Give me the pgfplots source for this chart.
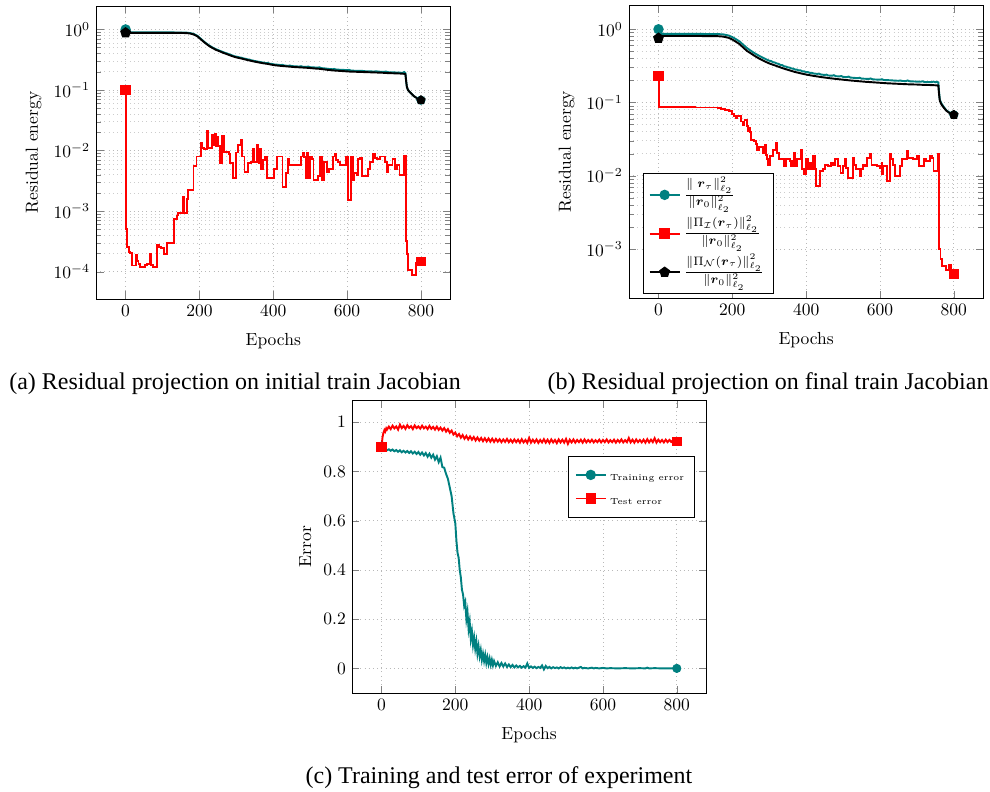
\documentclass[border=0pt]{standalone}
\usepackage{amsmath}
\usepackage{fontspec}
\usepackage{pgfplots}
\pgfplotsset{compat=1.18}
\newfontfamily\capfont{Liberation Serif}

\pgfplotsset{
  panel/.style={
    scale only axis, width=202.5pt, height=167.4pt,
    xmin=-80, xmax=880, xtick={0,200,400,600,800},
    xlabel={Epochs}, xlabel style={yshift=-3pt},
    major grid style={dotted, gray!55},
    minor grid style={dotted, gray!40},
  },
  tealline/.style={teal, line width=1.1pt, mark=*, mark size=2.4pt, mark repeat=100000, mark options={solid, fill=teal}},
  redline/.style={red, line width=1.1pt, mark=square*, mark size=2.4pt, mark repeat=100000, mark options={solid, fill=red}},
  blackline/.style={black, line width=1.1pt, mark=pentagon*, mark size=2.6pt, mark repeat=100000, mark options={solid, fill=black}},
}

\begin{document}
\begin{tikzpicture}
\useasboundingbox (0,0) rectangle (565.7pt,-452pt);

% ---------------- (a) initial train Jacobian ----------------
\begin{axis}[panel, at={(54.9pt,-3.4pt)}, anchor=north west,
  ymode=log, ymin=3.57e-5, ymax=2.44, grid=both,
  ytick={1e-4,1e-3,1e-2,1e-1,1},
  ylabel={Residual energy}]
\addplot[tealline] coordinates {
(0,1.0) (2,0.895) (50,0.895) (100,0.893) (150,0.89) (165,0.885) (175,0.87) (185,0.84) (195,0.78)
(205,0.69) (215,0.61) (225,0.55) (235,0.505) (245,0.47) (255,0.445) (265,0.42) (275,0.40) (285,0.38)
(295,0.36) (300,0.355) (305,0.35) (310,0.344) (315,0.34) (320,0.33) (325,0.328) (330,0.32) (335,0.318)
(340,0.31) (345,0.306) (350,0.30) (355,0.298) (360,0.292) (365,0.29) (370,0.285) (375,0.283) (380,0.278)
(385,0.28) (390,0.272) (395,0.27) (400,0.265) (410,0.262) (420,0.258) (425,0.26) (430,0.254) (440,0.25)
(445,0.254) (450,0.248) (460,0.246) (470,0.244) (475,0.247) (480,0.242) (490,0.241) (495,0.244) (500,0.238)
(510,0.236) (520,0.234) (525,0.237) (530,0.23) (540,0.227) (550,0.223) (560,0.22) (565,0.223) (570,0.218)
(580,0.216) (590,0.215) (600,0.212) (605,0.215) (610,0.21) (620,0.208) (630,0.207) (640,0.207) (650,0.204)
(660,0.204) (670,0.202) (680,0.203) (690,0.2) (700,0.199) (705,0.202) (710,0.197) (720,0.196) (730,0.195)
(740,0.194) (750,0.192) (755,0.198) (758,0.19) (760,0.14) (762,0.112) (765,0.1) (770,0.092) (775,0.086)
(780,0.08) (790,0.073) (800,0.068)};
\addplot[redline, const plot] coordinates {
(0,0.1) (1,9.3e-4) (2,5e-4) (3,3.3e-4) (5,2.6e-4) (8,2.1e-4) (13,2.05e-4) (18,1.27e-4) (28,1.9e-4)
(31,1.5e-4) (35,1.35e-4) (40,1.22e-4) (52,1.3e-4) (57,1.35e-4) (66,2e-4) (69,1.3e-4) (73,1.22e-4)
(84,2.8e-4) (90,2.6e-4) (96,2.5e-4) (103,1.95e-4) (113,3e-4) (128,3.0e-4) (131,7.4e-4) (138,8.5e-4)
(143,9.5e-4) (150,9.3e-4) (155,1.7e-3) (158,9.5e-4) (166,1.6e-3) (170,2.2e-3) (181,2.2e-3) (184,5.6e-3)
(192,8e-3) (200,8e-3) (204,1.35e-2) (208,1.1e-2) (212,1.05e-2) (220,2.1e-2) (223,1.1e-2) (230,1.1e-2)
(233,1.8e-2) (237,1.25e-2) (241,1.85e-2) (244,1.2e-2) (248,1.7e-2) (251,1.2e-2) (255,6.2e-3) (259,6.2e-3)
(262,1.75e-2) (266,9.6e-3) (275,9.6e-3) (279,8.8e-3) (283,6.2e-3) (290,3.5e-3) (300,9.3e-3) (305,1.25e-2)
(312,1.5e-2) (316,8e-3) (322,4.5e-3) (332,6.2e-3) (340,6.4e-3) (344,1.05e-2) (348,6.5e-3) (355,1.25e-2)
(360,6.2e-3) (364,1.05e-2) (368,4.9e-3) (372,7e-3) (377,8e-3) (382,3.5e-3) (401,4.9e-3) (410,8e-3)
(425,2.5e-3) (435,4.2e-3) (440,7.3e-3) (444,5.8e-3) (476,8e-3) (480,9e-3) (484,7.8e-3) (488,3.5e-3)
(491,9.3e-3) (494,3.5e-3) (500,8e-3) (505,7.3e-3) (509,3.3e-3) (520,3.8e-3) (527,8e-3) (531,3.3e-3)
(537,6.4e-3) (545,4.4e-3) (552,4.9e-3) (561,8e-3) (567,8.7e-3) (570,7e-3) (575,6.4e-3) (580,5.8e-3)
(597,7.8e-3) (603,1.55e-3) (611,8e-3) (615,3.3e-3) (619,4.2e-3) (626,4e-3) (630,7.3e-3) (635,7.5e-3)
(640,3.8e-3) (657,5e-3) (662,6.4e-3) (671,8.8e-3) (676,7.6e-3) (680,7.3e-3) (689,8e-3) (696,8e-3)
(702,6.4e-3) (707,4.4e-3) (711,5.8e-3) (723,7.3e-3) (729,5e-3) (735,5.8e-3) (742,3.9e-3) (754,8.2e-3)
(760,3.2e-4) (762,2e-4) (764,1.4e-4) (766,1.07e-4) (777,8.9e-5) (787,1.4e-4) (800,1.5e-4)};
\addplot[blackline] coordinates {
(0,0.88) (2,0.88) (100,0.878) (150,0.875) (165,0.87) (175,0.855) (185,0.825) (195,0.765) (205,0.675)
(215,0.6) (225,0.54) (235,0.495) (245,0.46) (255,0.435) (265,0.41) (275,0.39) (285,0.37) (295,0.352)
(305,0.34) (315,0.33) (325,0.318) (335,0.308) (345,0.298) (355,0.29) (365,0.282) (375,0.275) (385,0.27)
(395,0.262) (405,0.256) (415,0.252) (425,0.249) (435,0.246) (445,0.243) (455,0.24) (465,0.238) (475,0.236)
(485,0.234) (495,0.232) (505,0.229) (515,0.226) (525,0.224) (535,0.22) (545,0.216) (555,0.213) (565,0.21)
(575,0.208) (585,0.206) (595,0.204) (605,0.202) (615,0.201) (625,0.2) (635,0.199) (645,0.198) (655,0.197)
(665,0.196) (675,0.195) (685,0.194) (695,0.193) (705,0.191) (715,0.19) (725,0.189) (735,0.188) (745,0.187)
(755,0.185) (758,0.183) (760,0.14) (762,0.112) (765,0.1) (770,0.092) (775,0.086) (780,0.08) (790,0.073)
(800,0.068)};
% end-point markers
\addplot[only marks, forget plot, mark=*, mark size=2.4pt, teal] coordinates {(800,0.068)};
\addplot[only marks, forget plot, mark=square*, mark size=2.4pt, red] coordinates {(800,1.5e-4)};
\addplot[only marks, forget plot, mark=pentagon*, mark size=2.6pt, black] coordinates {(800,0.068)};
\end{axis}

% ---------------- (b) final train Jacobian ----------------
\begin{axis}[panel, at={(359.4pt,-2.9pt)}, anchor=north west,
  ymode=log, ymin=2.14e-4, ymax=2.14, grid=both,
  ytick={1e-3,1e-2,1e-1,1},
  ylabel={Residual energy},
  legend style={at={(0.04,0.015)}, anchor=south west, draw=black, inner ysep=1pt,
    nodes={text depth=, inner ysep=0.8pt}},
  legend cell align=left]
\addplot[tealline] coordinates {
(0,1.0) (1,0.865) (100,0.865) (160,0.86) (175,0.852) (190,0.822) (200,0.782) (210,0.732) (220,0.68)
(230,0.612) (240,0.552) (250,0.51) (260,0.472) (270,0.442) (280,0.415) (290,0.392) (300,0.372) (305,0.368)
(310,0.356) (315,0.352) (320,0.342) (325,0.338) (330,0.326) (335,0.325) (340,0.312) (345,0.31) (350,0.302)
(355,0.3) (360,0.292) (365,0.29) (370,0.282) (375,0.281) (380,0.274) (385,0.274) (390,0.266) (395,0.266)
(400,0.259) (405,0.26) (410,0.254) (415,0.255) (420,0.249) (430,0.246) (435,0.248) (440,0.241) (450,0.238)
(455,0.24) (460,0.234) (470,0.232) (475,0.236) (480,0.229) (490,0.227) (495,0.23) (500,0.224) (510,0.222)
(515,0.226) (520,0.219) (530,0.217) (540,0.215) (545,0.218) (550,0.212) (560,0.211) (570,0.21) (575,0.213)
(580,0.207) (590,0.206) (600,0.205) (605,0.208) (610,0.203) (620,0.202) (630,0.201) (640,0.199) (650,0.198)
(655,0.2) (660,0.197) (670,0.196) (675,0.2) (680,0.195) (690,0.194) (700,0.193) (710,0.192) (715,0.195)
(720,0.191) (730,0.19) (740,0.19) (745,0.193) (750,0.189) (755,0.192) (758,0.188) (760,0.14) (762,0.11)
(766,0.098) (772,0.088) (780,0.078) (790,0.072) (800,0.068)};
\addlegendentry{$\frac{\|\;\boldsymbol{r}_\tau\|_{\ell_2}^2}{\|\boldsymbol{r}_0\|_{\ell_2}^2}$}
\addplot[redline, const plot] coordinates {
(0,0.23) (1,0.086) (100,0.0855) (160,0.084) (170,0.082) (180,0.079) (191,0.0757) (198,0.070) (204,0.066)
(209,0.0614) (214,0.066) (219,0.0647) (224,0.055) (228,0.0499) (233,0.058) (237,0.0583) (240,0.048)
(242,0.0405) (245,0.0449) (248,0.04) (250,0.0312) (259,0.0296) (263,0.027) (267,0.0228) (272,0.025)
(277,0.0248) (282,0.0205) (285,0.023) (288,0.0267) (292,0.019) (294,0.0167) (297,0.0138) (302,0.0185)
(306,0.0185) (309,0.0228) (314,0.0228) (318,0.0281) (322,0.0205) (327,0.0167) (332,0.017) (337,0.017)
(341,0.0135) (346,0.0167) (350,0.0167) (355,0.016) (359,0.0135) (364,0.016) (368,0.0205) (371,0.0135)
(375,0.0167) (380,0.0167) (385,0.0228) (388,0.0122) (393,0.0104) (400,0.0167) (405,0.0122) (409,0.015)
(414,0.0122) (418,0.0185) (423,0.0122) (427,0.0072) (437,0.0117) (445,0.0122) (450,0.0142) (459,0.0135)
(468,0.015) (473,0.0142) (477,0.0167) (486,0.0135) (493,0.011) (500,0.0135) (504,0.0167) (509,0.0128)
(513,0.0094) (527,0.0176) (530,0.0142) (536,0.0122) (545,0.0098) (550,0.0122) (554,0.0142) (559,0.0135)
(566,0.0176) (572,0.0198) (577,0.0142) (593,0.0135) (600,0.0128) (604,0.015) (606,0.0104) (609,0.0135)
(618,0.0085) (627,0.0198) (629,0.0167) (636,0.0142) (640,0.0098) (654,0.0135) (659,0.0167) (672,0.0218)
(677,0.0176) (690,0.0167) (699,0.0185) (706,0.0135) (718,0.0167) (724,0.016) (736,0.0185) (740,0.0176)
(745,0.0117) (757,0.0198) (761,0.001) (764,7.3e-4) (768,5.9e-4) (780,5.2e-4) (788,6.1e-4) (792,5.2e-4)
(800,4.6e-4)};
\addlegendentry{$\frac{\|\Pi_{\mathcal{I}}(\boldsymbol{r}_\tau)\|_{\ell_2}^2}{\|\boldsymbol{r}_0\|_{\ell_2}^2}$}
\addplot[blackline] coordinates {
(0,0.755) (1,0.81) (100,0.81) (160,0.805) (175,0.795) (190,0.765) (200,0.725) (210,0.675) (220,0.625)
(230,0.56) (240,0.505) (250,0.47) (260,0.435) (270,0.405) (280,0.382) (290,0.36) (300,0.342) (310,0.328)
(320,0.315) (330,0.302) (340,0.29) (350,0.28) (360,0.27) (370,0.261) (380,0.254) (390,0.247) (400,0.241)
(420,0.231) (440,0.223) (460,0.216) (480,0.21) (500,0.205) (520,0.2) (540,0.196) (560,0.192) (580,0.189)
(600,0.186) (620,0.183) (640,0.181) (660,0.179) (680,0.177) (700,0.176) (720,0.174) (740,0.173) (758,0.171)
(760,0.13) (762,0.106) (766,0.095) (772,0.086) (780,0.077) (790,0.071) (800,0.068)};
\addlegendentry{$\frac{\|\Pi_{\mathcal{N}}(\boldsymbol{r}_\tau)\|_{\ell_2}^2}{\|\boldsymbol{r}_0\|_{\ell_2}^2}$}
\addplot[only marks, forget plot, mark=*, mark size=2.4pt, teal] coordinates {(800,0.068)};
\addplot[only marks, forget plot, mark=square*, mark size=2.4pt, red] coordinates {(800,4.6e-4)};
\addplot[only marks, forget plot, mark=pentagon*, mark size=2.6pt, black] coordinates {(800,0.068)};
\end{axis}

% ---------------- (c) training and test error ----------------
\begin{axis}[panel, at={(201.1pt,-228.6pt)}, anchor=north west,
  ymin=-0.1, ymax=1.09, grid=major,
  ytick={0,0.2,0.4,0.6,0.8,1},
  ylabel={Error},
  legend style={at={(0.968,0.81)}, anchor=north east, draw=black, font=\tiny, inner sep=4pt},
  legend cell align=left]
\addplot[tealline] coordinates {
(0,0.900) (3,0.889) (5,0.888) (10,0.892) (15,0.886) (20,0.890) (25,0.884) (30,0.889) (35,0.882) (40,0.887)
(45,0.880) (50,0.886) (55,0.878) (60,0.884) (65,0.877) (70,0.883) (75,0.875) (80,0.882) (85,0.873)
(90,0.880) (95,0.871) (100,0.879) (105,0.868) (110,0.877) (115,0.865) (120,0.875) (125,0.860) (130,0.872)
(135,0.856) (140,0.868) (145,0.848) (150,0.862) (155,0.838) (160,0.856) (165,0.818) (170,0.815) (175,0.790)
(180,0.770) (185,0.735) (190,0.700) (195,0.630) (200,0.590) (203,0.520) (206,0.470) (209,0.450) (212,0.400)
(215,0.370) (218,0.320) (221,0.300) (224,0.255) (227,0.270) (230,0.200) (233,0.230) (236,0.160) (239,0.190)
(242,0.120) (245,0.150) (248,0.095) (251,0.125) (254,0.080) (257,0.110) (260,0.060) (263,0.090) (266,0.050)
(269,0.075) (272,0.035) (275,0.060) (278,0.030) (281,0.055) (284,0.022) (287,0.045) (290,0.018) (293,0.040)
(296,0.015) (299,0.035) (302,0.012) (305,0.030) (310,0.010) (315,0.025) (320,0.008) (325,0.022) (330,0.008)
(335,0.020) (340,0.006) (345,0.016) (350,0.005) (355,0.014) (360,0.004) (365,0.012) (370,0.004) (375,0.010)
(380,0.003) (385,0.009) (390,0.003) (395,0.020) (400,0.002) (405,0.008) (410,0.002) (415,0.007) (420,0.001)
(425,0.006) (430,0.002) (435,0.012) (440,-0.004) (445,0.010) (450,0.001) (455,0.006) (460,0.000) (465,0.005)
(470,0.001) (475,0.004) (480,0.000) (485,0.005) (490,0.001) (495,0.004) (500,0.000) (505,0.003) (510,0.000)
(515,0.004) (520,0.000) (525,0.003) (530,0.000) (540,0.006) (545,0.000) (550,0.002) (560,0.000) (570,0.003)
(575,0.000) (580,0.002) (590,0.000) (600,0.002) (610,0.000) (620,0.001) (640,0.000) (660,0.001) (680,0.000)
(700,0.001) (715,0.000) (720,0.003) (725,0.000) (740,0.001) (760,0.000) (780,0.000) (800,0.000)};
\addlegendentry{\rule[-4pt]{0pt}{12pt}Training error}
\addplot[redline] coordinates {
(0,0.900) (3,0.940) (5,0.955) (8,0.968) (10,0.962) (13,0.975) (15,0.970) (20,0.982) (25,0.972) (30,0.986)
(35,0.975) (40,0.983) (45,0.970) (50,0.990) (55,0.976) (60,0.985) (65,0.973) (70,0.988) (75,0.977)
(80,0.984) (85,0.972) (90,0.987) (95,0.976) (100,0.983) (105,0.974) (110,0.986) (115,0.975) (120,0.982)
(125,0.972) (130,0.985) (135,0.973) (140,0.981) (145,0.970) (150,0.982) (155,0.969) (160,0.978) (165,0.966)
(170,0.976) (175,0.962) (180,0.972) (185,0.957) (190,0.966) (195,0.950) (200,0.958) (205,0.943) (210,0.952)
(215,0.937) (220,0.948) (225,0.933) (230,0.944) (235,0.930) (240,0.942) (245,0.929) (250,0.940) (255,0.926)
(260,0.938) (265,0.925) (270,0.936) (275,0.923) (280,0.935) (285,0.922) (290,0.934) (295,0.921) (300,0.933)
(305,0.920) (310,0.932) (315,0.921) (320,0.931) (325,0.919) (330,0.930) (335,0.920) (340,0.932) (345,0.919)
(350,0.929) (355,0.918) (360,0.930) (365,0.919) (370,0.929) (375,0.917) (380,0.931) (385,0.918) (390,0.928)
(395,0.916) (400,0.936) (405,0.917) (410,0.929) (415,0.918) (420,0.930) (425,0.916) (430,0.928) (435,0.918)
(440,0.931) (445,0.917) (450,0.929) (455,0.916) (460,0.930) (465,0.918) (470,0.928) (475,0.915) (480,0.930)
(485,0.918) (490,0.929) (495,0.917) (500,0.932) (505,0.912) (510,0.929) (515,0.918) (520,0.930) (525,0.917)
(530,0.928) (535,0.919) (540,0.929) (545,0.917) (550,0.930) (555,0.918) (560,0.928) (565,0.919) (570,0.929)
(575,0.918) (580,0.927) (585,0.919) (590,0.929) (595,0.918) (600,0.928) (605,0.919) (610,0.930) (615,0.918)
(620,0.927) (625,0.919) (630,0.929) (635,0.917) (640,0.928) (645,0.919) (650,0.930) (655,0.918) (660,0.927)
(665,0.919) (670,0.936) (675,0.918) (680,0.929) (685,0.917) (690,0.930) (695,0.919) (700,0.928) (705,0.918)
(710,0.929) (715,0.917) (720,0.931) (725,0.918) (730,0.929) (735,0.919) (740,0.935) (745,0.917) (750,0.929)
(755,0.919) (760,0.928) (765,0.918) (770,0.929) (775,0.919) (780,0.928) (785,0.920) (790,0.927) (795,0.921)
(800,0.923)};
\addlegendentry{\rule[-4pt]{0pt}{12pt}Test error}
\addplot[only marks, forget plot, mark=*, mark size=2.4pt, teal] coordinates {(800,0.0)};
\addplot[only marks, forget plot, mark=square*, mark size=2.4pt, red] coordinates {(800,0.923)};
\end{axis}

% sub-figure captions
\node[anchor=base, font=\capfont\fontsize{13.7}{16}\selectfont] at (134.3pt,-222.3pt)
  {(a) Residual projection on initial train Jacobian};
\node[anchor=base, font=\capfont\fontsize{13.7}{16}\selectfont] at (438.9pt,-222.3pt)
  {(b) Residual projection on final train Jacobian};
\node[anchor=base, font=\capfont\fontsize{13.7}{16}\selectfont] at (285.1pt,-447.5pt)
  {(c) Training and test error of experiment};
\end{tikzpicture}
\end{document}
